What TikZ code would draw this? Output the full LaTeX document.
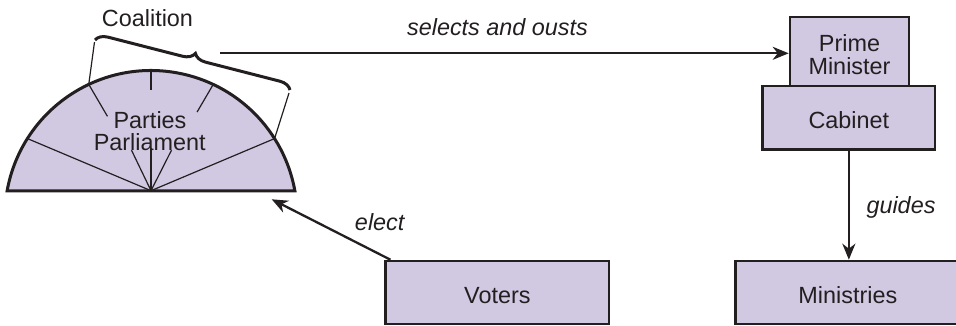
\documentclass[tikz,border=0pt]{standalone}
\usepackage{fontspec}
\setmainfont{Liberation Sans}
\usetikzlibrary{arrows.meta,calc,decorations.pathreplacing}
\definecolor{lav}{RGB}{209,200,226}
\definecolor{ink}{RGB}{35,31,32}

\begin{document}
\begin{tikzpicture}[x=1pt,y=1pt,
  every node/.style={font=\fontsize{23.4}{23.3}\selectfont, text=ink, inner sep=0pt},
  box/.style={draw=ink, fill=lav, line width=2.6pt, align=center},
  onebox/.style={box, text height=21.3pt, text depth=0pt},
  lbl/.style={font=\fontsize{23.4}{23.3}\selectfont\itshape},
  link/.style={draw=ink, line width=2.3pt, -{Stealth[length=16pt,width=13pt,inset=5pt]}},
  ray/.style={draw=ink, line width=1.2pt},
  rim/.style={draw=ink, line width=3pt},
]
\useasboundingbox (0,0) rectangle (956,325);

% ---- parliament: a circular segment with seats split by rays ----
\coordinate (O) at (151,108.3);   % centre of the arc
\coordinate (P) at (151,134.3);   % middle of the base, where the rays meet
\path ($(O)+(169.8:146.2)$) coordinate (arcL)
      ($(O)+(147.7:146.2)$) coordinate (b1)
      ($(O)+(115.2:146.2)$) coordinate (b2)
      ($(O)+(90:146.2)$)    coordinate (b3)
      ($(O)+(64.8:146.2)$)  coordinate (b4)
      ($(O)+(32.3:146.2)$)  coordinate (b5);
\fill[lav] (arcL) arc[start angle=169.8, end angle=10.2, radius=146.2] -- cycle;

\draw[ray] (P) -- (b1);
\draw[ray] (P) -- (b5);
\draw[ray] ($(P)!0.70!(b2)$) -- (b2);
\draw[ray] ($(P)!0.84!(b3)$) -- (b3);
\draw[ray] ($(P)!0.74!(b4)$) -- (b4);
\coordinate (f1) at ($(P)+(-19.5,40.5)$);
\coordinate (f2) at ($(P)+(0,41.5)$);
\coordinate (f3) at ($(P)+(20.5,40.5)$);
\draw[ray] (P) -- (f1);
\draw[ray] (P) -- (f2);
\draw[ray] (P) -- (f3);

\draw[rim] (arcL) arc[start angle=169.8, end angle=10.2, radius=146.2] -- cycle;

\node[anchor=base] (parties) at (150,196.7) {Parties};
\node[anchor=base] (parl) at (149.7,175) {Parliament};

% ---- coalition brace over part of the seats ----
\coordinate (cl) at (95,285);
\coordinate (cr) at (290,235);
\draw[rim, decorate, decoration={brace, amplitude=12pt}] (cl) -- (cr);
\coordinate (clf) at ($(cl)+(-0.5,-2)$);
\coordinate (crf) at ($(cr)+(-1,-3)$);
\draw[ray] (clf) -- (b2);
\draw[ray] (crf) -- (b5);
\node[anchor=base] (coal) at (147.5,298.3) {Coalition};

% ---- executive ----
\node[box, minimum width=119pt, minimum height=69pt] (pm) at (849.5,273.5)
  {\rule{0pt}{23.8pt}Prime\\Minister};
\node[onebox, minimum width=172.3pt, minimum height=63.3pt] (cab) at (848.85,207.35) {Cabinet};
\node[onebox, minimum width=224.3pt, minimum height=63pt] (mins) at (847.85,32.5) {Ministries};
\node[onebox, minimum width=223.3pt, minimum height=63pt] (voters) at (497.35,32.5) {Voters};

% ---- connectors ----
\coordinate (sel) at (220,271.7);
\draw[link] (sel) -- (sel -| pm.west);
\node[lbl, anchor=base] (selt) at (497.5,290) {selects and ousts};

\coordinate (vstart) at ($(voters.north west)+(6,0)$);
\coordinate (etip) at (271.7,125.7);
\draw[link] (vstart) -- (etip);
\node[lbl, anchor=base] (electt) at (379.7,95) {elect};

\draw[link] (cab.south) -- (cab.south |- mins.north);
\node[lbl, anchor=base] (guidest) at (901,111.7) {guides};
\end{tikzpicture}
\end{document}
